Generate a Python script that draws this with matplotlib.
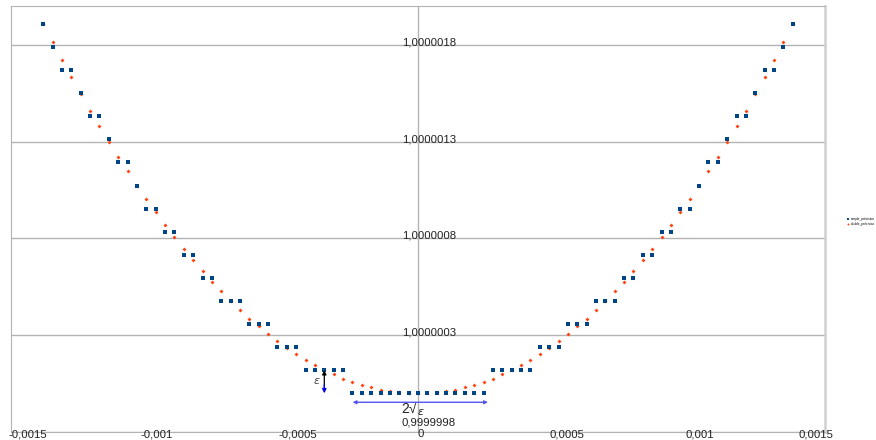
import matplotlib
matplotlib.use("Agg")
from matplotlib import pyplot as plt

plt.rcParams['font.family'] = ['Liberation Sans', 'DejaVu Sans']

# x values (sample points)
x = [-0.0013811, -0.0013466, -0.0013120, -0.0012775, -0.0012430, -0.0012084,
     -0.0011739, -0.0011394, -0.0011049, -0.0010703, -0.0010358, -0.0010013,
     -0.0009668, -0.0009322, -0.0008977, -0.0008632, -0.0008286, -0.0007941,
     -0.0007596, -0.0007251, -0.0006905, -0.0006560, -0.0006215, -0.0005870,
     -0.0005524, -0.0005179, -0.0004834, -0.0004489, -0.0004143, -0.0003798,
     -0.0003453, -0.0003107, -0.0002762, -0.0002417, -0.0002072, -0.0001726,
     -0.0001381, -0.0001036, -0.0000691, -0.0000345, 0.0,
     0.0000345, 0.0000691, 0.0001036, 0.0001381, 0.0001726, 0.0002072,
     0.0002417, 0.0002762, 0.0003107, 0.0003453, 0.0003798, 0.0004143,
     0.0004489, 0.0004834, 0.0005179, 0.0005524, 0.0005870, 0.0006215,
     0.0006560, 0.0006905, 0.0007251, 0.0007596, 0.0007941, 0.0008286,
     0.0008632, 0.0008977, 0.0009322, 0.0009668, 0.0010013, 0.0010358,
     0.0010703, 0.0011049, 0.0011394, 0.0011739, 0.0012084, 0.0012430,
     0.0012775, 0.0013120, 0.0013466, 0.0013811]

# y values given as (y - 1) in units of 1e-7
simple_dy = [19.07, 17.88, 16.69, 16.69, 15.50, 14.31, 14.31, 13.11, 11.92, 11.92,
             10.73, 9.54, 9.54, 8.34, 8.34, 7.15, 7.15, 5.96, 5.96, 4.77,
             4.77, 4.77, 3.58, 3.58, 3.58, 2.38, 2.38, 2.38, 1.19, 1.19,
             1.19, 1.19, 1.19, 0, 0, 0, 0, 0, 0, 0, 0,
             0, 0, 0, 0, 0, 0, 0, 1.19, 1.19, 1.19,
             1.19, 1.19, 2.38, 2.38, 2.38, 3.58, 3.58, 3.58, 4.77, 4.77,
             4.77, 5.96, 5.96, 7.15, 7.15, 8.34, 8.34, 9.54, 9.54, 10.73,
             11.92, 11.92, 13.11, 14.31, 14.31, 15.50, 16.69, 16.69, 17.88, 19.07]

double_dy = [19.07, 18.13, 17.21, 16.32, 15.45, 14.60, 13.78, 12.98, 12.21, 11.46,
             10.73, 10.03, 9.35, 8.69, 8.06, 7.45, 6.87, 6.31, 5.77, 5.26,
             4.77, 4.30, 3.86, 3.45, 3.05, 2.68, 2.34, 2.01, 1.72, 1.44,
             1.19, 0.97, 0.76, 0.58, 0.43, 0.30, 0.19, 0.11, 0.05, 0.01, 0.00,
             0.01, 0.05, 0.11, 0.19, 0.30, 0.43, 0.58, 0.76, 0.97, 1.19,
             1.44, 1.72, 2.01, 2.34, 2.68, 3.05, 3.45, 3.86, 4.30, 4.77,
             5.26, 5.77, 6.31, 6.87, 7.45, 8.06, 8.69, 9.35, 10.03, 10.73,
             11.46, 12.21, 12.98, 13.78, 14.60, 15.45, 16.32, 17.21, 18.13, 19.07]

x_ticks = [-0.0015, -0.001, -0.0005, 0, 0.0005, 0.001, 0.0015]
x_labels = ['-0,0015', '-0,001', '-0,0005', '0', '0,0005', '0,001', '0,0015']
y_ticks = [-2, 3, 8, 13, 18]
y_labels = ['0,9999998', '1,0000003', '1,0000008', '1,0000013', '1,0000018']

fig = plt.figure(figsize=(8.76, 4.40), dpi=100)
ax = fig.add_axes([11 / 876, 8 / 440, 814 / 876, 426 / 440])

grey = '#b3b3b3'
ax.plot(x, double_dy, linestyle='none', marker='D', ms=2.0, mew=0,
        color='#ff420e', label='double_précision', zorder=3)
ax.plot(x, simple_dy, linestyle='none', marker='s', ms=3.0, mew=0,
        color='#004586', label='simple_précision', zorder=4)

ax.set_xlim(-0.0015, 0.0015)
ax.set_ylim(-2, 20)
ax.set_xticks([])
ax.set_yticks(y_ticks)
ax.set_yticklabels([])
ax.tick_params(axis='y', length=0)
ax.grid(axis='y', color=grey, lw=1)
ax.axvline(0, color=grey, lw=1, zorder=1)
for s in ax.spines.values():
    s.set_color(grey)
ax.spines['right'].set_linewidth(1.8)
ax.spines['right'].set_color('#d0d0d0')

# tick labels placed like the original chart
x_offs = [11.9, 7.2, 10.8, 1.8, 9.7, 7.9, -6.5]
for t, lab, dx in zip(x_ticks, x_labels, x_offs):
    ax.annotate(lab, xy=(t, -2), xytext=(dx, -1.5), textcoords='offset points',
                ha='center', va='center', fontsize=8.2, color='#222222',
                annotation_clip=False)
for t, lab in zip(y_ticks, y_labels):
    dy = 6.8 if t == -2 else 1.8
    ax.annotate(lab, xy=(0, t), xytext=(7.9, dy), textcoords='offset points',
                ha='center', va='center', fontsize=8.2, color='#222222')

# epsilon arrow
xe = -0.0003453
ax.annotate('', xy=(xe, 1.19), xytext=(xe, 0.25),
            arrowprops=dict(arrowstyle='-|>', color='black', lw=0.9,
                            mutation_scale=6, shrinkA=0, shrinkB=0), zorder=5)
ax.annotate('', xy=(xe, 0.0), xytext=(xe, 0.45),
            arrowprops=dict(arrowstyle='-|>', color='#0000ee', lw=0.9,
                            mutation_scale=6, shrinkA=0, shrinkB=0), zorder=5)
ax.text(-0.000373, 0.63, r'$\varepsilon$', fontsize=8, color='#444444',
        ha='center', va='center')

# 2 sqrt(eps) arrow
ax.annotate('', xy=(-0.000241, -0.465), xytext=(0.000258, -0.465),
            arrowprops=dict(arrowstyle='<|-|>', color='#5555ee', lw=1,
                            mutation_scale=5, shrinkA=0, shrinkB=0), zorder=5)
ax.text(-0.000005, -0.86, '2√', fontsize=10, color='#222222',
        ha='right', va='center')
ax.text(-0.000005, -0.95, r'$\varepsilon$', fontsize=8, color='#222222',
        ha='left', va='center')

h, l = ax.get_legend_handles_labels()
fig.legend(h[::-1], l[::-1], loc='center left',
           bbox_to_anchor=(845 / 876, 1 - 221.5 / 440), fontsize=2.3,
           frameon=False, handlelength=0.8, markerscale=0.6, borderpad=0,
           labelspacing=0.35, handletextpad=0.4)

fig.savefig('out.png', dpi=100)
